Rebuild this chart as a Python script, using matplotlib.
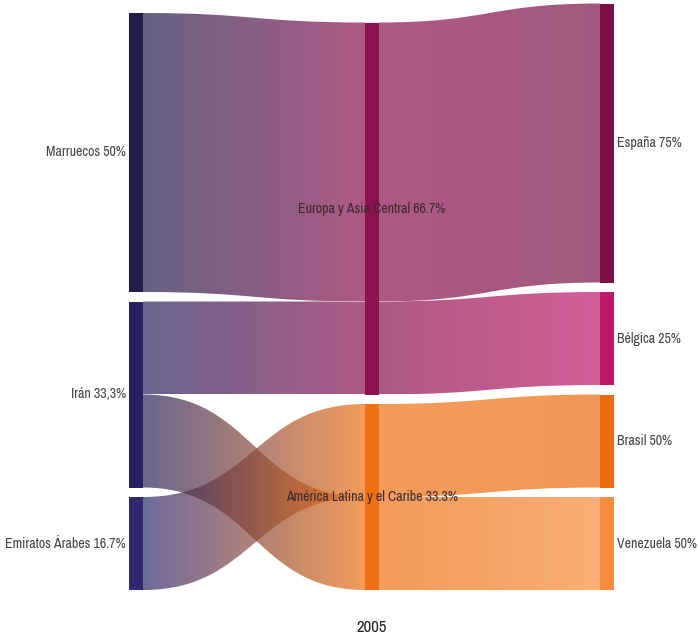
import numpy as np
import matplotlib
matplotlib.use("Agg")
import matplotlib.pyplot as plt
from matplotlib.path import Path
from matplotlib.patches import PathPatch, Rectangle
from matplotlib.colors import to_rgb
from matplotlib import font_manager as fm

# Datos
origins = ["Marruecos", "Irán", "Emiratos Árabes"]
regions = ["Europa y Asia Central", "América Latina y el Caribe"]
destinations = ["España", "Bélgica", "Brasil", "Venezuela"]

origin_labels = ["Marruecos 50%", "Irán 33,3%", "Emiratos Árabes 16.7%"]
region_labels = ["Europa y Asia Central 66.7%", "América Latina y el Caribe 33.3%"]
destination_labels = ["España 75%", "Bélgica 25%", "Brasil 50%", "Venezuela 50%"]

flow_src = ["Marruecos", "Irán", "Emiratos Árabes", "Irán",
            "Europa y Asia Central", "Europa y Asia Central",
            "América Latina y el Caribe", "América Latina y el Caribe"]
flow_tgt = ["Europa y Asia Central", "Europa y Asia Central",
            "América Latina y el Caribe", "América Latina y el Caribe",
            "España", "Bélgica", "Brasil", "Venezuela"]
flow_val = [3, 1, 1, 1, 3, 1, 1, 1]

year = "2005"

node_colors = {
    "Marruecos": "#221f4e", "Irán": "#27235f", "Emiratos Árabes": "#2e2a70",
    "Europa y Asia Central": "#8b1150", "América Latina y el Caribe": "#ee7012",
    "España": "#7a1046", "Bélgica": "#c0186c", "Brasil": "#ec6c10",
    "Venezuela": "#f78c3c",
}

# Layout (pixeles)
W, H = 698, 641
col_x = [129, 365, 600]
node_w = 14
ky = 93.0
gap = 9.5
bottom = 590
link_alpha = 0.7

columns = [origins, regions, destinations]
col_labels = [origin_labels, region_labels, destination_labels]

# buscar una fuente condensada si existe
names = sorted({f.name for f in fm.fontManager.ttflist})
cond = [n for n in names if "Condensed" in n or "Narrow" in n]
if cond:
    font = [cond[0], "DejaVu Sans"]
    fs = 10
    stretch = "normal"
else:
    font = ["Roboto", "DejaVu Sans"]
    fs = 9
    stretch = "condensed"

# valor de cada nodo
node_val = {}
for s, t, v in zip(flow_src, flow_tgt, flow_val):
    node_val.setdefault(s, [0, 0])
    node_val.setdefault(t, [0, 0])
    node_val[s][1] += v
    node_val[t][0] += v

node_pos = {}
for ci, col in enumerate(columns):
    y = bottom
    for name in reversed(col):
        h = max(node_val[name]) * ky
        node_pos[name] = (col_x[ci], y - h, y)
        y = y - h - gap

fig = plt.figure(figsize=(W / 100, H / 100), dpi=100)
ax = fig.add_axes([0, 0, 1, 1])
ax.set_xlim(0, W)
ax.set_ylim(H, 0)
ax.axis("off")

out_off = {n: node_pos[n][1] for n in node_pos}
in_off = {n: node_pos[n][1] for n in node_pos}

for s, t, v in zip(flow_src, flow_tgt, flow_val):
    w = v * ky
    x0 = node_pos[s][0] + node_w
    x1 = node_pos[t][0]
    y0a = out_off[s]; y0b = y0a + w
    y1a = in_off[t]; y1b = y1a + w
    out_off[s] += w
    in_off[t] += w
    xm = (x0 + x1) / 2
    verts = [(x0, y0a), (xm, y0a), (xm, y1a), (x1, y1a),
             (x1, y1b), (xm, y1b), (xm, y0b), (x0, y0b), (x0, y0a)]
    codes = [Path.MOVETO, Path.CURVE4, Path.CURVE4, Path.CURVE4,
             Path.LINETO, Path.CURVE4, Path.CURVE4, Path.CURVE4, Path.CLOSEPOLY]
    patch = PathPatch(Path(verts, codes), facecolor="none", edgecolor="none")
    ax.add_patch(patch)
    c0 = np.array(to_rgb(node_colors[s]))
    c1 = np.array(to_rgb(node_colors[t]))
    tt = np.linspace(0, 1, 256)
    grad = np.zeros((1, 256, 4))
    grad[0, :, :3] = c0[None, :] * (1 - tt[:, None]) + c1[None, :] * tt[:, None]
    grad[0, :, 3] = link_alpha
    ymin = min(y0a, y1a); ymax = max(y0b, y1b)
    im = ax.imshow(grad, extent=[x0, x1, ymax, ymin], aspect="auto",
                   interpolation="bilinear", zorder=1)
    im.set_clip_path(patch)

for name, (x, ya, yb) in node_pos.items():
    ax.add_patch(Rectangle((x, ya), node_w, yb - ya, facecolor=node_colors[name],
                           edgecolor="none", zorder=2))

for ci, col in enumerate(columns):
    for name, lab in zip(col, col_labels[ci]):
        x, ya, yb = node_pos[name]
        yc = (ya + yb) / 2
        if ci == 0:
            ax.text(x - 3, yc, lab, ha="right", va="center", fontsize=fs,
                    color="#444444", family=font, stretch=stretch, zorder=3)
        elif ci == 1:
            ax.text(x + node_w / 2, yc, lab, ha="center", va="center", fontsize=fs,
                    color="#3a2a30", family=font, stretch=stretch, zorder=3)
        else:
            ax.text(x + node_w + 3, yc, lab, ha="left", va="center", fontsize=fs,
                    color="#444444", family=font, stretch=stretch, zorder=3)

ax.text(372, 628, year, ha="center", va="center", fontsize=fs + 2,
        color="#222222", family=font, stretch=stretch)

fig.savefig("out.png", dpi=100)
